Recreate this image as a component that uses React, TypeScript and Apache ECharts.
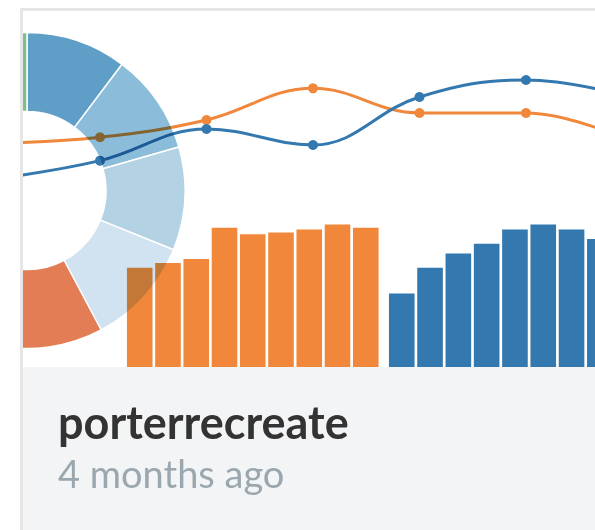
import React, { useEffect, useRef } from "react";
import * as echarts from "echarts";

// ---- data ----
const lineCategories = ["P1", "P2", "P3", "P4", "P5", "P6", "P7"];
const lineOrange = [35.3, 39.2, 50, 69.8, 54.4, 54.4, 36.3];
const lineBlue = [13.1, 24.6, 44.4, 34.4, 64.4, 75, 64.4];

const orangeBarCats = ["A1", "A2", "A3", "A4", "A5", "A6", "A7", "A8", "A9"];
const orangeBars = [62, 65, 67.5, 87, 83, 84, 86, 89, 87];
const blueBarCats = ["B1", "B2", "B3", "B4", "B5", "B6", "B7", "B8"];
const blueBars = [46, 62, 71, 77, 86, 89, 86, 80];

const pieNames = ["b1", "b2", "b3", "b4", "o1", "o2", "o3", "o4", "g1"];
const pieValues = [37, 37, 38, 40, 40, 40, 40, 40, 48];
const pieColors = ["#5f9ec7", "#8bbdda", "#b3d3e5", "#d1e2f0", "#e27d56", "#f0a070", "#f6c08f", "#f9d9b8", "#7dbf8b"];

const title = "porterrecreate";
const subtitle = "4 months ago";

const ORANGE = "#f0873a";
const BLUE = "#3378af";

export default function App() {
  const refA = useRef<HTMLDivElement>(null);
  const refB = useRef<HTMLDivElement>(null);

  useEffect(() => {
    const a = echarts.init(refA.current!, null, { renderer: "svg" });
    const b = echarts.init(refB.current!, null, { renderer: "svg" });

    a.setOption({
      animation: false,
      backgroundColor: "#ffffff",
      grid: [
        { left: 10.5, top: 29, width: 639, height: 160 },
        { left: 142.6, top: 196, width: 254.3, height: 160 },
        { left: 404.6, top: 196, width: 226.4, height: 160 },
      ],
      xAxis: [
        { type: "category", gridIndex: 0, data: lineCategories, boundaryGap: false, show: false },
        { type: "category", gridIndex: 1, data: orangeBarCats, show: false },
        { type: "category", gridIndex: 2, data: blueBarCats, show: false },
      ],
      yAxis: [
        { type: "value", gridIndex: 0, min: 0, max: 100, show: false },
        { type: "value", gridIndex: 1, min: 0, max: 100, show: false },
        { type: "value", gridIndex: 2, min: 0, max: 100, show: false },
      ],
      series: [
        {
          type: "line", xAxisIndex: 0, yAxisIndex: 0, data: lineOrange, smooth: 0.4,
          symbol: "circle", symbolSize: 10, lineStyle: { color: ORANGE, width: 3 },
          itemStyle: { color: ORANGE }, z: 3,
        },
        {
          type: "line", xAxisIndex: 0, yAxisIndex: 0, data: lineBlue, smooth: 0.4,
          symbol: "circle", symbolSize: 10, lineStyle: { color: BLUE, width: 3 },
          itemStyle: { color: BLUE }, z: 3,
        },
        {
          type: "bar", xAxisIndex: 1, yAxisIndex: 1, data: orangeBars, barCategoryGap: "9.5%",
          itemStyle: { color: ORANGE },
        },
        {
          type: "bar", xAxisIndex: 2, yAxisIndex: 2, data: blueBars, barCategoryGap: "9.5%",
          itemStyle: { color: BLUE },
        },
      ],
      graphic: [
        { type: "rect", left: 0, top: 356, shape: { width: 740, height: 300 }, style: { fill: "#f3f4f6" }, z: 10 },
        {
          type: "text", x: 75, y: 410.5, z: 11,
          style: {
            text: title, fill: "#333333", fontSize: 45, fontWeight: "bold",
            fontFamily: "Lato, 'Open Sans', sans-serif", verticalAlign: "middle", align: "left",
          },
        },
        {
          type: "text", x: 75, y: 462, z: 11,
          style: {
            text: subtitle, fill: "#9ba7af", fontSize: 38, fontWeight: "normal",
            fontFamily: "Lato, 'Open Sans', sans-serif", verticalAlign: "middle", align: "left",
          },
        },
      ],
    });

    b.setOption({
      animation: false,
      backgroundColor: "transparent",
      series: [
        {
          type: "pie",
          center: [4, 179.5],
          radius: [79, 158],
          startAngle: 90,
          clockwise: true,
          label: { show: false },
          labelLine: { show: false },
          silent: true,
          itemStyle: { borderColor: "#ffffff", borderWidth: 1.5 },
          data: pieValues.map((v, i) => ({ name: pieNames[i], value: v, itemStyle: { color: pieColors[i] } })),
        },
      ],
    });

    return () => {
      a.dispose();
      b.dispose();
    };
  }, []);

  return (
    <div style={{ position: "fixed", left: 0, top: 0, width: 595, height: 530, overflow: "hidden", background: "#ffffff" }}>
      <div
        style={{
          position: "absolute", left: 20, top: 8, width: 700, height: 600,
          border: "3px solid #e6e6e6", boxSizing: "border-box", overflow: "hidden", background: "#ffffff",
        }}
      >
        <div ref={refA} style={{ position: "absolute", left: -40, top: 0, width: 740, height: 560 }} />
        <div ref={refB} style={{ position: "absolute", left: 0, top: 0, width: 300, height: 356, mixBlendMode: "multiply" }} />
      </div>
    </div>
  );
}
